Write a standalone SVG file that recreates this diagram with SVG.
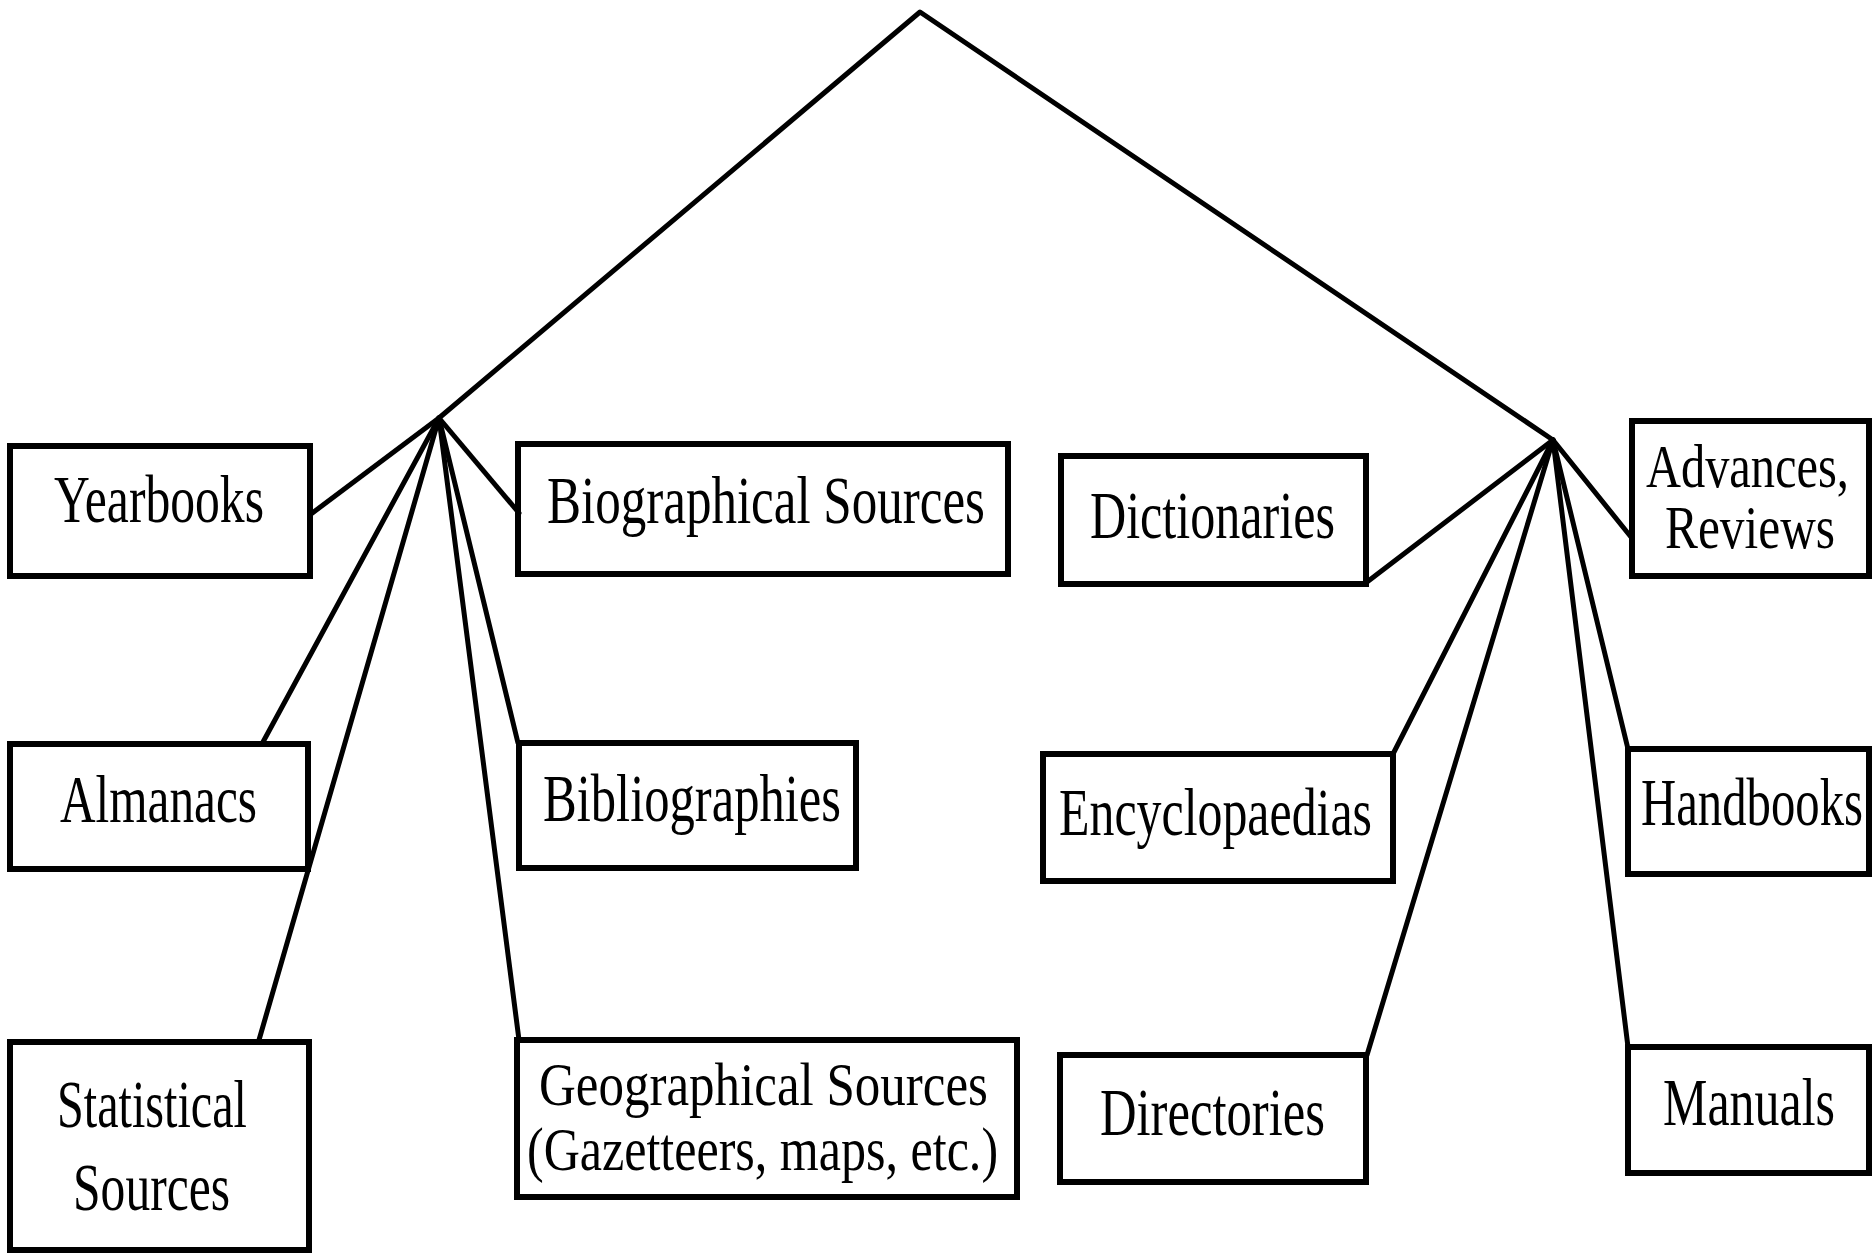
<svg xmlns="http://www.w3.org/2000/svg" width="1874" height="1256" viewBox="0 0 1874 1256">
<style>
.box{fill:#fff;stroke:#000;stroke-width:6}
.lbl{font-family:"Liberation Serif","Times New Roman",serif;font-size:68px;fill:#000}
.sm{font-size:62px}
.ln{stroke:#000;stroke-width:5;fill:none;stroke-linecap:round;stroke-linejoin:round}
</style>
<rect width="1874" height="1256" fill="#fff"/>
<g id="nodes">
<g id="yearbooks"><rect class="box" x="10" y="446" width="300" height="130"/><text class="lbl" transform="scale(0.7,1)" x="77.1" y="522" textLength="300" lengthAdjust="spacingAndGlyphs">Yearbooks</text></g>
<g id="almanacs"><rect class="box" x="10" y="744" width="298" height="125"/><text class="lbl" transform="scale(0.7,1)" x="85.7" y="822" textLength="281.4" lengthAdjust="spacingAndGlyphs">Almanacs</text></g>
<g id="statistical"><rect class="box" x="10" y="1042" width="299" height="208"/><text class="lbl" transform="scale(0.7,1)" x="81.4" y="1127" textLength="271.4" lengthAdjust="spacingAndGlyphs">Statistical</text><text class="lbl" transform="scale(0.7,1)" x="104.3" y="1210" textLength="224.3" lengthAdjust="spacingAndGlyphs">Sources</text></g>
<g id="biographical"><rect class="box" x="518" y="444" width="490" height="130"/><text class="lbl" transform="scale(0.7,1)" x="781.4" y="523" textLength="625.7" lengthAdjust="spacingAndGlyphs">Biographical Sources</text></g>
<g id="bibliographies"><rect class="box" x="519" y="743" width="337" height="125"/><text class="lbl" transform="scale(0.7,1)" x="775.7" y="821" textLength="425.7" lengthAdjust="spacingAndGlyphs">Bibliographies</text></g>
<g id="geographical"><rect class="box" x="517" y="1040" width="500" height="157"/><text class="lbl sm" transform="scale(0.7,1)" x="770" y="1105" textLength="641.4" lengthAdjust="spacingAndGlyphs">Geographical Sources</text><text class="lbl sm" transform="scale(0.7,1)" x="752.9" y="1170" textLength="672.9" lengthAdjust="spacingAndGlyphs">(Gazetteers, maps, etc.)</text></g>
<g id="dictionaries"><rect class="box" x="1061" y="456" width="305" height="128"/><text class="lbl" transform="scale(0.7,1)" x="1557.1" y="538" textLength="350" lengthAdjust="spacingAndGlyphs">Dictionaries</text></g>
<g id="encyclopaedias"><rect class="box" x="1043" y="754" width="350" height="127"/><text class="lbl" transform="scale(0.7,1)" x="1512.9" y="835" textLength="447.1" lengthAdjust="spacingAndGlyphs">Encyclopaedias</text></g>
<g id="directories"><rect class="box" x="1060" y="1055" width="306" height="127"/><text class="lbl" transform="scale(0.7,1)" x="1571.4" y="1135" textLength="321.4" lengthAdjust="spacingAndGlyphs">Directories</text></g>
<g id="advances"><rect class="box" x="1632" y="421" width="237" height="155"/><text class="lbl sm" transform="scale(0.7,1)" x="2351.4" y="487" textLength="290" lengthAdjust="spacingAndGlyphs">Advances,</text><text class="lbl sm" transform="scale(0.7,1)" x="2378.6" y="548" textLength="242.9" lengthAdjust="spacingAndGlyphs">Reviews</text></g>
<g id="handbooks"><rect class="box" x="1628" y="749" width="241" height="125"/><text class="lbl" transform="scale(0.7,1)" x="2344.3" y="825" textLength="317.1" lengthAdjust="spacingAndGlyphs">Handbooks</text></g>
<g id="manuals"><rect class="box" x="1628" y="1047" width="241" height="126"/><text class="lbl" transform="scale(0.7,1)" x="2375.7" y="1125" textLength="245.7" lengthAdjust="spacingAndGlyphs">Manuals</text></g>
</g>
<g id="connectors">
<polyline class="ln" points="439,418 920,12 1553,440"/>
<line class="ln" x1="439" y1="418" x2="311" y2="514"/>
<line class="ln" x1="439" y1="418" x2="263" y2="742"/>
<line class="ln" x1="439" y1="418" x2="259" y2="1040"/>
<line class="ln" x1="439" y1="418" x2="519" y2="513"/>
<line class="ln" x1="439" y1="418" x2="518" y2="743"/>
<line class="ln" x1="439" y1="418" x2="519" y2="1040"/>
<line class="ln" x1="1553" y1="440" x2="1367" y2="582"/>
<line class="ln" x1="1553" y1="440" x2="1393" y2="754"/>
<line class="ln" x1="1553" y1="440" x2="1367" y2="1055"/>
<line class="ln" x1="1553" y1="440" x2="1631" y2="537"/>
<line class="ln" x1="1553" y1="440" x2="1628" y2="749"/>
<line class="ln" x1="1553" y1="440" x2="1628" y2="1047"/>
</g>
</svg>
